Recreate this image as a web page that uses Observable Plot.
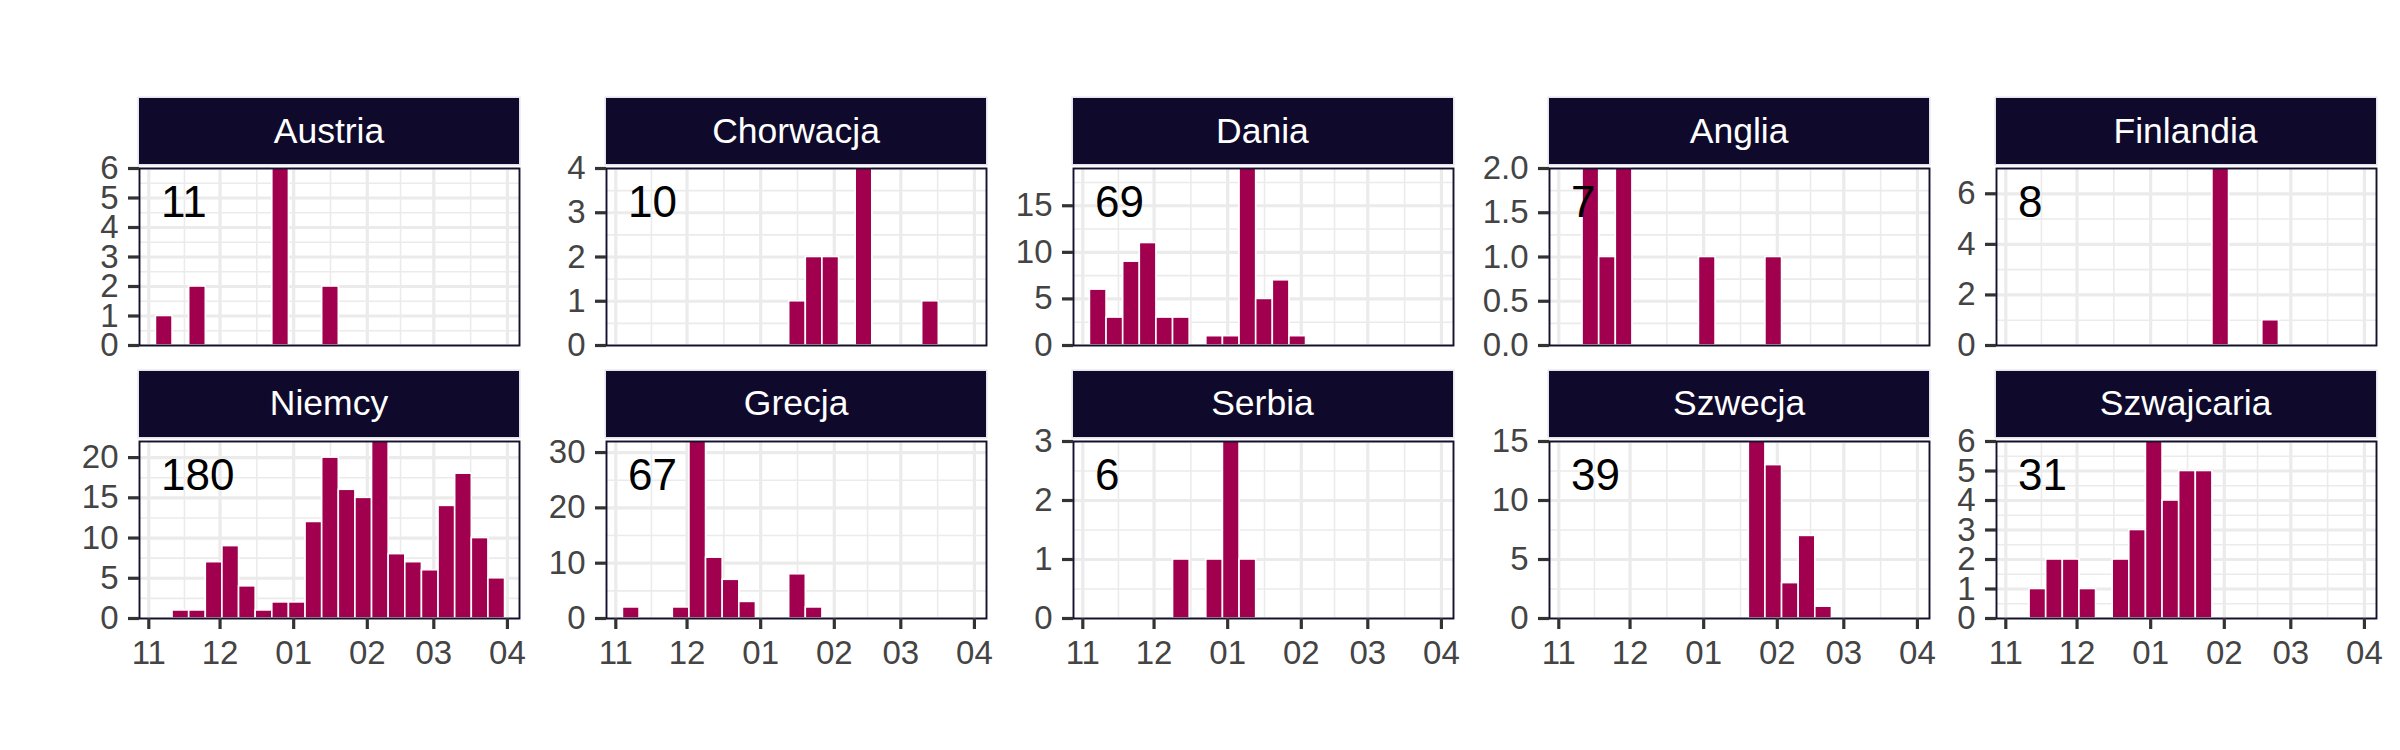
<!DOCTYPE html>
<html><head><meta charset="utf-8">
<script src="https://cdn.jsdelivr.net/npm/d3@7"></script>
<script src="https://cdn.jsdelivr.net/npm/@observablehq/plot@0.6"></script>
<style>
html,body{margin:0;padding:0;background:#fff;}
#chart{position:relative;width:2400px;height:750px;overflow:hidden;font-family:"Liberation Sans",Arial,sans-serif;background:#fff;}
.strip{position:absolute;background:#0f0a2c;color:#fff;font-size:35.5px;display:flex;align-items:center;justify-content:center;box-shadow:0 0 0 1.5px #e4e4ec;z-index:2;}
.panel{position:absolute;z-index:1;}
</style></head><body><div id="chart"></div>
<script>
const countries = ["Austria","Chorwacja","Dania","Anglia","Finlandia","Niemcy","Grecja","Serbia","Szwecja","Szwajcaria"];
const weekStarts = ["2024-11-04","2024-11-11","2024-11-18","2024-11-25","2024-12-02","2024-12-09","2024-12-16","2024-12-23","2024-12-30","2025-01-06","2025-01-13","2025-01-20","2025-01-27","2025-02-03","2025-02-10","2025-02-17","2025-02-24","2025-03-03","2025-03-10","2025-03-17","2025-03-24"];
const austria    = [1,0,2,0,0,0,0,6,0,0,2,0,0,0,0,0,0,0,0,0,0];
const chorwacja  = [0,0,0,0,0,0,0,0,0,0,1,2,2,0,4,0,0,0,1,0,0];
const dania      = [6,3,9,11,3,3,0,1,1,19,5,7,1,0,0,0,0,0,0,0,0];
const anglia     = [0,2,1,2,0,0,0,0,1,0,0,0,1,0,0,0,0,0,0,0,0];
const finlandia  = [0,0,0,0,0,0,0,0,0,0,0,0,7,0,0,1,0,0,0,0,0];
const niemcy     = [0,1,1,7,9,4,1,2,2,12,20,16,15,22,8,7,6,14,18,10,5];
const grecja     = [2,0,0,2,32,11,7,3,0,0,8,2,0,0,0,0,0,0,0,0,0];
const serbia     = [0,0,0,0,0,1,0,1,3,1,0,0,0,0,0,0,0,0,0,0,0];
const szwecja    = [0,0,0,0,0,0,0,0,0,0,0,15,13,3,7,1,0,0,0,0,0];
const szwajcaria = [0,1,2,2,1,0,2,3,6,4,5,5,0,0,0,0,0,0,0,0,0];
const counts = [austria,chorwacja,dania,anglia,finlandia,niemcy,grecja,serbia,szwecja,szwajcaria];
const yTicks = [[0,1,2,3,4,5,6],[0,1,2,3,4],[0,5,10,15],[0,0.5,1,1.5,2],[0,2,4,6],[0,5,10,15,20],[0,10,20,30],[0,1,2,3],[0,5,10,15],[0,1,2,3,4,5,6]];
const monthTicks = ["2024-11-01","2024-12-01","2025-01-01","2025-02-01","2025-03-01","2025-04-01"];
const monthLabels = ["11","12","01","02","03","04"];
const xDomain = ["2024-10-28T02:00:00Z","2025-04-06T02:00:00Z"];

const chart = document.getElementById("chart");
const W = 380, H = 177;
const panelLefts = [139, 606.1, 1072.5, 1549.1, 1995.6];
const panelTops = [168.3, 440.7];
const mL = 100, mR = 6, mT = 24;
const barColor = "#a0004e";
const gridColor = "#ebebeb";
const months = monthTicks.map(s => new Date(s + "T00:00:00Z"));
const minorX = d3.pairs(months).map(([a, b]) => new Date((+a + +b) / 2));
const xd = xDomain.map(s => new Date(s));

countries.forEach((name, i) => {
  const row = Math.floor(i / 5), col = i % 5;
  const vals = counts[i];
  const data = weekStarts.map((s, k) => {
    const x1 = new Date(s + "T00:00:00Z");
    return {x1, x2: d3.utcDay.offset(x1, 7), count: vals[k]};
  }).filter(d => d.count > 0);
  const maxY = d3.max(vals);
  const ticks = yTicks[i];
  const step = ticks[1] - ticks[0];
  const minorY = [ticks[0] - step / 2, ...ticks.map(t => t + step / 2)].filter(v => v > 0 && v <= maxY);
  const decimals = ticks.some(t => !Number.isInteger(t));
  const fmt = decimals ? d3.format(".1f") : d3.format("d");
  const total = d3.sum(vals);
  const mB = row === 1 ? 60 : 6;

  const marks = [
    Plot.ruleX(minorX, {stroke: gridColor, strokeWidth: 1.6}),
    Plot.ruleY(minorY, {stroke: gridColor, strokeWidth: 1.6}),
    Plot.ruleX(months, {stroke: gridColor, strokeWidth: 3.2}),
    Plot.ruleY(ticks, {stroke: gridColor, strokeWidth: 3.2}),
    Plot.rect(data, {x1: "x1", x2: "x2", y1: () => 0, y2: "count", fill: barColor, stroke: "white", strokeWidth: 1.6}),
    Plot.frame({stroke: "#15102e", strokeWidth: 1.9}),
    Plot.text([total], {frameAnchor: "top-left", text: d => String(d), dx: 21.5, dy: 34, textAnchor: "start", lineAnchor: "middle", fontSize: 44, fill: "black"}),
    Plot.axisY(ticks, {tickSize: 11, tickPadding: 10, strokeWidth: 3.2, stroke: "#333", fill: "#444", fontSize: 33, tickFormat: fmt, label: null})
  ];
  if (row === 1) {
    marks.push(Plot.axisX(months, {tickSize: 11, tickPadding: 11, strokeWidth: 3.2, stroke: "#333", fill: "#444", fontSize: 33,
      tickFormat: d => monthLabels[months.findIndex(m => +m === +d)], label: null}));
  }
  const plot = Plot.plot({
    width: mL + W + mR, height: mT + H + mB,
    marginLeft: mL, marginRight: mR, marginTop: mT, marginBottom: mB,
    style: {background: "transparent", overflow: "visible", fontFamily: "'Liberation Sans', Arial, sans-serif", fontSize: "33px"},
    x: {type: "utc", domain: xd, axis: row === 1 ? undefined : null},
    y: {domain: [0, maxY], label: null},
    marks
  });
  plot.classList.add("panel");
  plot.style.left = (panelLefts[col] - mL) + "px";
  plot.style.top = (panelTops[row] - mT) + "px";
  plot.style.maxWidth = "none";
  chart.appendChild(plot);

  const strip = document.createElement("div");
  strip.className = "strip";
  strip.style.left = panelLefts[col] + "px";
  strip.style.top = (panelTops[row] - 70) + "px";
  strip.style.width = W + "px";
  strip.style.height = "66px";
  strip.textContent = name;
  chart.appendChild(strip);
});
</script></body></html>
